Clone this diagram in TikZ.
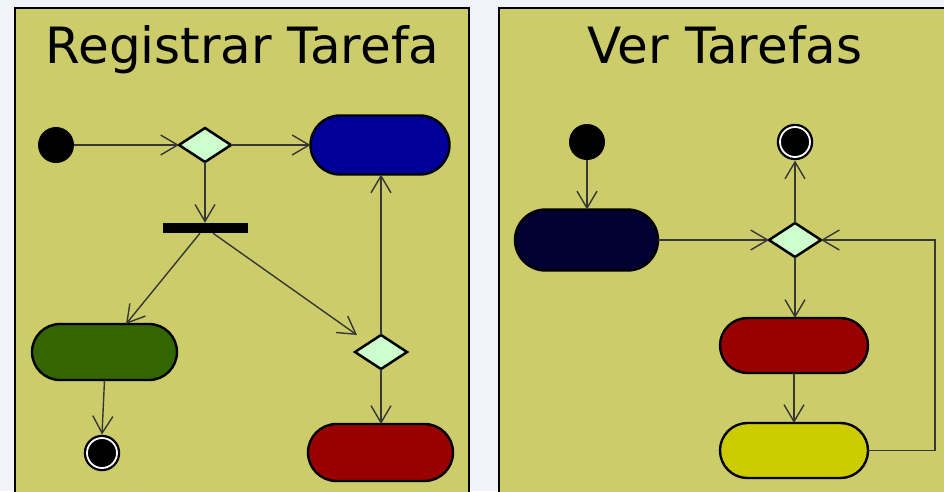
\documentclass[tikz,border=0pt]{standalone}
\usepackage{fontspec}
\setmainfont{DejaVu Sans}
\usetikzlibrary{shapes.geometric,shapes.misc,arrows.meta}
\definecolor{pagebg}{RGB}{241,243,248}
\definecolor{panelbg}{RGB}{204,204,106}
\definecolor{decfill}{RGB}{204,255,204}
\definecolor{actblue}{RGB}{0,0,153}
\definecolor{actgreen}{RGB}{51,102,0}
\definecolor{actred}{RGB}{153,0,0}
\definecolor{actnavy}{RGB}{0,0,51}
\definecolor{actyellow}{RGB}{204,204,0}
\definecolor{flow}{RGB}{55,55,55}
\tikzset{
  panel/.style={draw=black, line width=2.2pt, fill=panelbg},
  title/.style={font=\fontsize{50}{58}\selectfont, anchor=base, inner sep=0pt},
  startnode/.style={circle, fill=black, inner sep=0pt, minimum size=36pt, outer sep=0pt},
  endnode/.style={circle, fill=black, draw=black, double=white, double distance=1.8pt,
    line width=2.3pt, inner sep=0pt, minimum size=30pt, outer sep=3.5pt},
  decision/.style={diamond, draw=black, line width=2.5pt, fill=decfill, inner sep=0pt,
    minimum width=52pt, minimum height=34pt, outer sep=0pt},
  activity/.style={rounded rectangle, draw=black, line width=2.4pt, inner sep=0pt, outer sep=0pt},
  forkbar/.style={rectangle, fill=black, inner sep=0pt, minimum width=85pt, minimum height=10pt},
  flowline/.style={draw=flow, line width=1.4pt,
    -{Straight Barb[length=17pt, width=20pt, line width=1.4pt]}},
}
\begin{document}
\begin{tikzpicture}[x=1pt, y=-1pt]
  \useasboundingbox (0,0) rectangle (944,491);
  \clip (0,0) rectangle (944,491);
  \fill[pagebg] (0,0) rectangle (944,491);

  % panels
  \draw[panel] (15,8) rectangle (469,500);
  \draw[panel] (499,8) rectangle (960,500);
  \node[title] (t1) at (242.5,63) {Registrar Tarefa};
  \node[title] (t2) at (725,63) {Ver Tarefas};

  % ---- Registrar Tarefa ----
  \node[startnode] (s1) at (56,145) {};
  \node[decision] (d1) at (205,145) {};
  \node[activity, fill=actblue, minimum width=139pt, minimum height=59pt] (blue) at (380,145) {};
  \node[forkbar] (bar) at (205,228) {};
  \node[activity, fill=actgreen, minimum width=145pt, minimum height=56pt] (green) at (104.5,352) {};
  \node[decision] (d2) at (381,352) {};
  \node[activity, fill=actred, minimum width=145pt, minimum height=57pt] (redL) at (380.5,452.5) {};
  \node[endnode] (f1) at (102,453) {};
  \coordinate (d2in) at (357,335);

  \draw[flowline] (s1) -- (d1.west);
  \draw[flowline] (d1.east) -- (blue.west);
  \draw[flowline] (d1.south) -- (bar.north);
  \draw[flowline] ([xshift=-5pt]bar.south) -- ([xshift=21.5pt]green.north);
  \draw[flowline] ([xshift=8pt]bar.south) -- (d2in);
  \draw[flowline] (d2.north) -- (d2.north |- blue.south);
  \draw[flowline] (d2.south) -- (d2.south |- redL.north);
  \draw[flowline] (green.south) -- (f1.north);

  % ---- Ver Tarefas ----
  \node[startnode] (s2) at (587,142) {};
  \node[endnode] (f2) at (795,142) {};
  \node[activity, fill=actnavy, minimum width=143pt, minimum height=61pt] (navy) at (586.5,240) {};
  \node[decision] (d3) at (795,240) {};
  \node[activity, fill=actred, minimum width=148pt, minimum height=55pt] (redR) at (794,345.5) {};
  \node[activity, fill=actyellow, minimum width=148pt, minimum height=55pt] (yellow) at (794,450.5) {};
  \coordinate (loop) at (935,240);

  \draw[flowline] (s2) -- (s2 |- navy.north);
  \draw[flowline] (navy.east) -- (d3.west);
  \draw[flowline] (d3.north) -- (f2.south);
  \draw[flowline] (d3.south) -- (d3.south |- redR.north);
  \draw[flowline] (redR.south) -- (yellow.north);
  \draw[flowline] (yellow.east) -| (loop) -- (d3.east);
\end{tikzpicture}
\end{document}
